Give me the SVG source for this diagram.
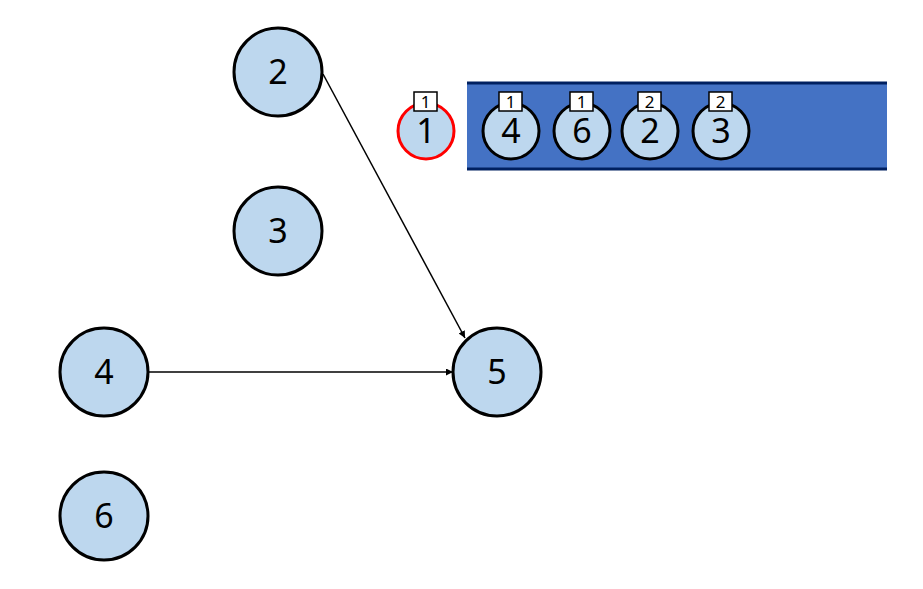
<svg xmlns="http://www.w3.org/2000/svg" width="923" height="589" viewBox="0 0 923 589">
<defs>
<marker id="ah" viewBox="0 0 10 10" refX="10" refY="5" markerWidth="7" markerHeight="7" orient="auto" markerUnits="userSpaceOnUse"><path d="M0,0 L10,5 L0,10 z" fill="#000"/></marker>
</defs>
<style>
.n{fill:#BDD7EE;stroke:#000;stroke-width:3}
.t{font-family:"Noto Sans","Noto Sans CJK KR",sans-serif;font-size:34px;text-anchor:middle;fill:#000}
.b{fill:#fff;stroke:#000;stroke-width:1.5}
.bt{font-family:"Noto Sans","Noto Sans CJK KR",sans-serif;font-size:17px;text-anchor:middle;fill:#000}
.e{stroke:#000;stroke-width:1.5;fill:none;marker-end:url(#ah)}
</style>
<rect width="923" height="589" fill="#fff"/>
<g id="connectors">
<line class="e" x1="323" y1="74" x2="465" y2="338"/>
<line class="e" x1="149" y1="372" x2="453" y2="372"/>
</g>
<g id="node2"><circle class="n" cx="278" cy="72" r="44"/><text class="t" x="278" y="84">2</text></g>
<g id="node3"><circle class="n" cx="278" cy="231" r="44"/><text class="t" x="278" y="243">3</text></g>
<g id="node4"><circle class="n" cx="104" cy="372" r="44"/><text class="t" x="104" y="384">4</text></g>
<g id="node6"><circle class="n" cx="104" cy="516" r="44"/><text class="t" x="104" y="528">6</text></g>
<g id="node5"><circle class="n" cx="497" cy="372" r="44"/><text class="t" x="497" y="384">5</text></g>
<g id="queue">
<rect x="467" y="83" width="420" height="86" fill="#4472C4"/>
<line x1="467" y1="83" x2="887" y2="83" stroke="#002060" stroke-width="3"/>
<line x1="467" y1="169" x2="887" y2="169" stroke="#002060" stroke-width="3"/>
</g>
<g id="current1"><circle cx="426" cy="131" r="28" fill="#BDD7EE" stroke="#FF0000" stroke-width="3"/><text class="t" x="426" y="143">1</text><rect class="b" x="414" y="92" width="23" height="19"/><text class="bt" x="425.5" y="108">1</text></g>
<g id="q4"><circle class="n" cx="511" cy="131" r="28"/><text class="t" x="511" y="143">4</text><rect class="b" x="499" y="92" width="23" height="19"/><text class="bt" x="510.5" y="108">1</text></g>
<g id="q6"><circle class="n" cx="582" cy="131" r="28"/><text class="t" x="582" y="143">6</text><rect class="b" x="570" y="92" width="23" height="19"/><text class="bt" x="581.5" y="108">1</text></g>
<g id="q2"><circle class="n" cx="650" cy="131" r="28"/><text class="t" x="650" y="143">2</text><rect class="b" x="638" y="92" width="23" height="19"/><text class="bt" x="649.5" y="108">2</text></g>
<g id="q3"><circle class="n" cx="721" cy="131" r="28"/><text class="t" x="721" y="143">3</text><rect class="b" x="709" y="92" width="23" height="19"/><text class="bt" x="720.5" y="108">2</text></g>
</svg>
